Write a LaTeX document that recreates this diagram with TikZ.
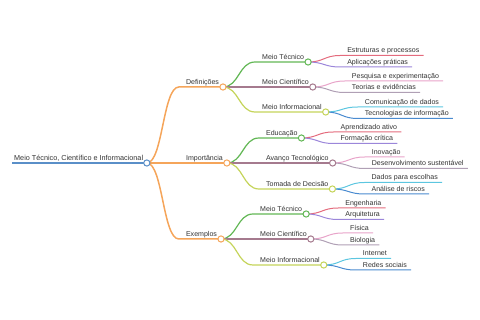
\documentclass[tikz,border=0pt]{standalone}
\usepackage{fontspec}
\setmainfont{Liberation Sans}
\usetikzlibrary{calc,backgrounds}
\definecolor{cRoot}{HTML}{5A8FC8}
\definecolor{cOrange}{HTML}{F5A55A}
\definecolor{cGreen}{HTML}{62B755}
\definecolor{cMauve}{HTML}{A57A8E}
\definecolor{cLime}{HTML}{C5D45A}
\definecolor{cRed}{HTML}{E46B7D}
\definecolor{cPurple}{HTML}{9B86DA}
\definecolor{cPink}{HTML}{E8A3C9}
\definecolor{cGray}{HTML}{B0A0B5}
\definecolor{cCyan}{HTML}{5CC6E0}
\definecolor{cBlue}{HTML}{4A8BD0}
\definecolor{textgray}{HTML}{333333}
\newcommand{\mmItem}[6]{%
  \coordinate (#1s) at ($(#2.center |- 0,#3)+(32,0)$);
  \node[txt] (#1t) at ($(#1s)+(7,-2.8)$) {#6};
  \node[dot, draw=#4] (#1) at ($(#1t.east |- #1s)+(3.8,0)$) {};
  \begin{scope}[on background layer]
    \draw[#4, line width=#5] (#2.center) .. controls +(16,0) and +(-16,0) .. (#1s) -- (#1.center);
  \end{scope}
}
\newcommand{\mmLeaf}[6]{%
  \coordinate (#1s) at ($(#2.center |- 0,#3)+(32,0)$);
  \node[txt] (#1t) at ($(#1s)+(7,-2.8)$) {#6};
  \coordinate (#1e) at ($(#1t.east |- #1s)+(4,0)$);
  \begin{scope}[on background layer]
    \draw[#4, line width=#5] (#2.center) .. controls +(16,0) and +(-16,0) .. (#1s) -- (#1e);
  \end{scope}
}
\begin{document}
\begin{tikzpicture}[x=1pt,y=-1pt,
  txt/.style={anchor=base west, inner sep=0pt, font=\fontsize{7.05}{8}\selectfont, text=textgray},
  dot/.style={circle, fill=white, inner sep=0pt, minimum size=6.2pt, line width=1pt}]
\useasboundingbox (0,0) rectangle (480,320);
% root
\coordinate (rs) at (12,163);
\node[txt, font=\fontsize{7.25}{8}\selectfont] (rt) at (14,160.2) {Meio Técnico, Científico e Informacional};
\node[dot, draw=cRoot] (r) at ($(rt.east |- rs)+(3.5,0)$) {};
\begin{scope}[on background layer]
  \draw[cRoot, line width=1.7pt] (rs) -- (r.center);
\end{scope}
% level 1
\mmItem{def}{r}{87}{cOrange}{1.5pt}{Definições}
\mmItem{imp}{r}{163}{cOrange}{1.5pt}{Importância}
\mmItem{ex}{r}{239}{cOrange}{1.5pt}{Exemplos}
% Definições
\mmItem{dt}{def}{62}{cGreen}{1.2pt}{Meio Técnico}
\mmItem{dc}{def}{87}{cMauve}{1.2pt}{Meio Científico}
\mmItem{di}{def}{112}{cLime}{1.2pt}{Meio Informacional}
\mmLeaf{dta}{dt}{55.5}{cRed}{1pt}{Estruturas e processos}
\mmLeaf{dtb}{dt}{67}{cPurple}{1pt}{Aplicações práticas}
\mmLeaf{dca}{dc}{81}{cPink}{1pt}{Pesquisa e experimentação}
\mmLeaf{dcb}{dc}{92.5}{cGray}{1pt}{Teorias e evidências}
\mmLeaf{dia}{di}{107}{cCyan}{1pt}{Comunicação de dados}
\mmLeaf{dib}{di}{118.5}{cBlue}{1pt}{Tecnologias de informação}
% Importância
\mmItem{ie}{imp}{138}{cGreen}{1.2pt}{Educação}
\mmItem{ia}{imp}{163}{cMauve}{1.2pt}{Avanço Tecnológico}
\mmItem{it}{imp}{189}{cLime}{1.2pt}{Tomada de Decisão}
\mmLeaf{iea}{ie}{132}{cRed}{1pt}{Aprendizado ativo}
\mmLeaf{ieb}{ie}{143.5}{cPurple}{1pt}{Formação crítica}
\mmLeaf{iaa}{ia}{157}{cPink}{1pt}{Inovação}
\mmLeaf{iab}{ia}{168.5}{cGray}{1pt}{Desenvolvimento sustentável}
\mmLeaf{ita}{it}{182.5}{cCyan}{1pt}{Dados para escolhas}
\mmLeaf{itb}{it}{194}{cBlue}{1pt}{Análise de riscos}
% Exemplos
\mmItem{et}{ex}{214}{cGreen}{1.2pt}{Meio Técnico}
\mmItem{ec}{ex}{239}{cMauve}{1.2pt}{Meio Científico}
\mmItem{ei}{ex}{265}{cLime}{1.2pt}{Meio Informacional}
\mmLeaf{eta}{et}{208}{cRed}{1pt}{Engenharia}
\mmLeaf{etb}{et}{219.5}{cPurple}{1pt}{Arquitetura}
\mmLeaf{eca}{ec}{233}{cPink}{1pt}{Física}
\mmLeaf{ecb}{ec}{245}{cGray}{1pt}{Biologia}
\mmLeaf{eia}{ei}{258.5}{cCyan}{1pt}{Internet}
\mmLeaf{eib}{ei}{270}{cBlue}{1pt}{Redes sociais}
\end{tikzpicture}
\end{document}
